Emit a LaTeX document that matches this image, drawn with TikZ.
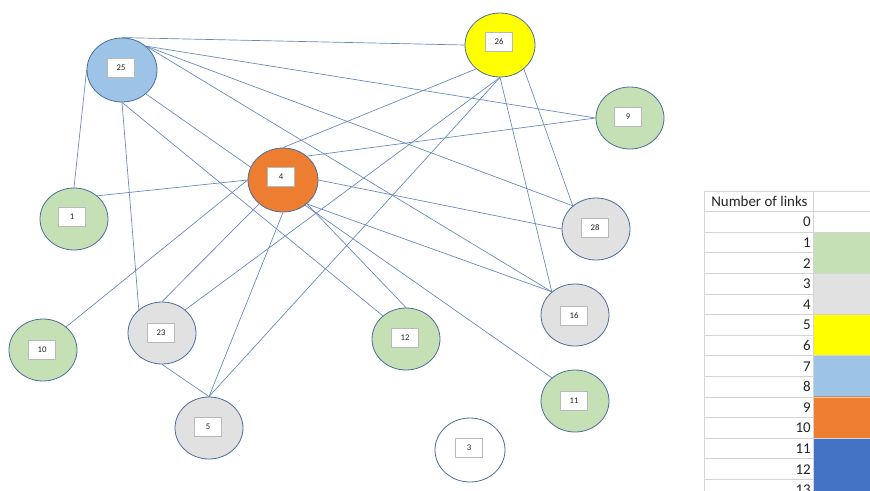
\documentclass[tikz,border=0pt]{standalone}
\usepackage{fontspec}
\setmainfont{Carlito}
\usetikzlibrary{shapes.geometric,backgrounds}
\definecolor{edgec}{RGB}{100,135,190}
\definecolor{bord}{RGB}{75,110,155}
\definecolor{gfill}{RGB}{197,224,180}
\definecolor{grfill}{RGB}{225,225,225}
\definecolor{yfill}{RGB}{255,255,0}
\definecolor{bfill}{RGB}{157,195,230}
\definecolor{ofill}{RGB}{237,125,49}
\definecolor{dbfill}{RGB}{68,114,196}
\definecolor{gridc}{RGB}{212,212,212}
\definecolor{txtc}{RGB}{35,35,35}
\begin{document}
\begin{tikzpicture}[x=0.75pt,y=-0.75pt,
  nd/.style={ellipse, draw=bord, line width=0.6pt, minimum width=51pt, minimum height=46.5pt, inner sep=0pt},
  big/.style={minimum width=52.5pt, minimum height=48pt},
  lbl/.style={draw=gray!55, fill=white, line width=0.4pt, minimum width=20pt, minimum height=14pt, inner sep=0pt, text=txtc, font=\fontsize{6.5}{7}\selectfont},
  ed/.style={draw=edgec, line width=0.5pt},
  gridl/.style={draw=gridc, line width=0.6pt},
  num/.style={anchor=east, inner sep=0pt, text=txtc, font=\fontsize{11.2}{12}\selectfont}]
\useasboundingbox (0,0) rectangle (870,490);
\clip (0,0) rectangle (870,490);

% nodes
\node[nd, big, fill=bfill] (n25) at (122,70) {};
\node[nd, big, fill=yfill] (n26) at (500,45) {};
\node[nd, big, fill=ofill] (n4) at (283,180) {};
\node[nd, fill=gfill] (n9) at (630,118) {};
\node[nd, fill=gfill] (n1) at (74,219) {};
\node[nd, fill=grfill] (n28) at (596,229) {};
\node[nd, fill=gfill] (n10) at (43,350) {};
\node[nd, fill=grfill] (n23) at (162,333) {};
\node[nd, fill=gfill] (n12) at (406,339) {};
\node[nd, fill=grfill] (n16) at (575,315) {};
\node[nd, fill=gfill] (n11) at (575,401) {};
\node[nd, fill=grfill] (n5) at (209,428) {};
\node[nd, big, fill=white] (n3) at (470,450) {};

% labels
\node[lbl] (l25) at (121,68) {25};
\node[lbl] (l26) at (499,42) {26};
\node[lbl] (l4) at (281,177) {4};
\node[lbl] (l9) at (628,117) {9};
\node[lbl] (l1) at (72,217) {1};
\node[lbl] (l28) at (595,228) {28};
\node[lbl] (l10) at (42,350) {10};
\node[lbl] (l23) at (161,333) {23};
\node[lbl] (l12) at (405,338) {12};
\node[lbl] (l16) at (574,316) {16};
\node[lbl] (l11) at (574,401) {11};
\node[lbl] (l5) at (208,427) {5};
\node[lbl] (l3) at (469,448) {3};

% edges
\begin{scope}[on background layer]
\draw[ed] (n25.90) -- (n26.180);
\draw[ed] (n25.45) -- (n9.180);
\draw[ed] (n25.45) -- (n28.135);
\draw[ed] (n25.45) -- (n16.135);
\draw[ed] (n25.315) -- (n11.135);
\draw[ed] (n25.270) -- (n12.135);
\draw[ed] (n25.270) -- (n23.135);
\draw[ed] (n25.180) -- (n1.90);
\draw[ed] (n26.225) -- (n4.90);
\draw[ed] (n26.270) -- (n23.45);
\draw[ed] (n26.270) -- (n5.90);
\draw[ed] (n26.270) -- (n16.135);
\draw[ed] (n26.315) -- (n28.135);
\draw[ed] (n4.180) -- (n1.45);
\draw[ed] (n4.180) -- (n10.45);
\draw[ed] (n4.45) -- (n9.180);
\draw[ed] (n4.0) -- (n28.180);
\draw[ed] (n4.315) -- (n16.135);
\draw[ed] (n4.315) -- (n12.90);
\draw[ed] (n4.225) -- (n23.90);
\draw[ed] (n4.270) -- (n5.90);
\draw[ed] (n23.270) -- (n5.90);
\end{scope}

% legend table (rows 20.6 px high)
\fill[gfill] (813,231.6) rectangle (870,272.8);
\fill[grfill] (813,272.8) rectangle (870,314.0);
\fill[yfill] (813,314.0) rectangle (870,355.2);
\fill[bfill] (813,355.2) rectangle (870,396.4);
\fill[ofill] (813,396.4) rectangle (870,437.6);
\fill[dbfill] (813,437.6) rectangle (870,500);
\foreach \k in {0,...,14}
  \draw[gridl] (704,{191+20.6*\k}) -- (813,{191+20.6*\k});
\foreach \k in {0,1,2,4,6,8,10,12}
  \draw[gridl] (813,{191+20.6*\k}) -- (870,{191+20.6*\k});
\draw[gridl] (704,191) -- (704,500);
\draw[gridl] (813,191) -- (813,500);
\node[num, anchor=west] (hdr) at (711,201.5) {Number of links};
\foreach \k in {0,...,13}
  \node[num] (r\k) at (811,{222+20.6*\k}) {\k};
\end{tikzpicture}
\end{document}
